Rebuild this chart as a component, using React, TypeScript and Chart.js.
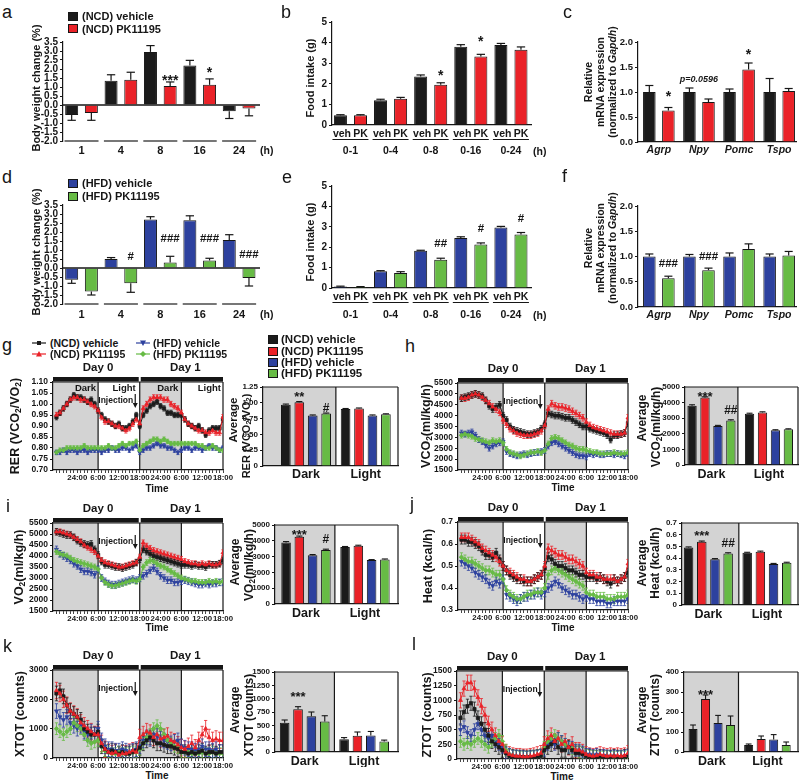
import React, { useEffect, useRef } from 'react';
import { Chart, registerables } from 'chart.js';

Chart.register(...registerables);

const FONT = '"Liberation Sans", Arial, Helvetica, sans-serif';
Chart.defaults.font.family = FONT;
const INK = '#161616';
const SHADE = '#d3d3d3';
const NCD_VEH_COLOR = '#1b1b1b';
const NCD_PK_COLOR = '#ea2228';
const HFD_VEH_COLOR = '#2d419e';
const HFD_PK_COLOR = '#67bb45';

// ---------- labels ----------
const SERIES_NAMES = ['(NCD) vehicle', '(NCD) PK11195', '(HFD) vehicle', '(HFD) PK11195'];
const BW_TIMES = ['1', '4', '8', '16', '24'];
const INTAKE_WINDOWS = ['0-1', '0-4', '0-8', '0-16', '0-24'];
const INTAKE_SUBLABELS = ['veh', 'PK'];
const GENES = ['Agrp', 'Npy', 'Pomc', 'Tspo'];
const PHASES = ['Dark', 'Light'];
const DAY_LABELS = ['Day 0', 'Day 1'];
const INJECTION_LABEL = 'Injection';
const TIME_TICK_HOURS = [6, 12, 18, 24, 30, 36, 42, 48];
const TIME_TICK_TEXT = ['24:00', '6:00', '12:00', '18:00', '24:00', '6:00', '12:00', '18:00'];
const HOURS = [0, 1, 2, 3, 4, 5, 6, 7, 8, 9, 10, 11, 12, 13, 14, 15, 16, 17, 18, 19, 20, 21, 22, 23, 24,
  25, 26, 27, 28, 29, 30, 31, 32, 33, 34, 35, 36, 37, 38, 39, 40, 41, 42, 43, 44, 45, 46, 47, 48];

// ---------- a: body weight change (NCD) ----------
const A_NCD_VEH = [-0.55, 1.35, 2.95, 2.2, -0.35];
const A_NCD_VEH_SEM = [0.3, 0.33, 0.35, 0.28, 0.4];
const A_NCD_PK = [-0.45, 1.4, 1.05, 1.12, -0.2];
const A_NCD_PK_SEM = [0.4, 0.42, 0.23, 0.33, 0.4];
// ---------- b: food intake (NCD) ----------
const B_NCD_VEH = [0.47, 1.2, 2.35, 3.8, 3.88];
const B_NCD_VEH_SEM = [0.03, 0.05, 0.08, 0.1, 0.08];
const B_NCD_PK = [0.47, 1.27, 1.95, 3.33, 3.65];
const B_NCD_PK_SEM = [0.03, 0.07, 0.1, 0.1, 0.14];
// ---------- c: mRNA (NCD) ----------
const C_NCD_VEH = [1.0, 1.0, 1.0, 1.0];
const C_NCD_VEH_SEM = [0.13, 0.08, 0.06, 0.27];
const C_NCD_PK = [0.63, 0.8, 1.45, 1.02];
const C_NCD_PK_SEM = [0.06, 0.06, 0.13, 0.05];
// ---------- d: body weight change (HFD) ----------
const D_HFD_VEH = [-0.65, 0.5, 2.7, 2.65, 1.55];
const D_HFD_VEH_SEM = [0.2, 0.08, 0.15, 0.25, 0.3];
const D_HFD_PK = [-1.3, -0.85, 0.3, 0.42, -0.55];
const D_HFD_PK_SEM = [0.2, 0.5, 0.35, 0.12, 0.45];
// ---------- e: food intake (HFD) ----------
const E_HFD_VEH = [0.07, 0.82, 1.82, 2.45, 2.97];
const E_HFD_VEH_SEM = [0.02, 0.03, 0.03, 0.06, 0.05];
const E_HFD_PK = [0.05, 0.73, 1.38, 2.13, 2.62];
const E_HFD_PK_SEM = [0.02, 0.07, 0.08, 0.08, 0.1];
// ---------- f: mRNA (HFD) ----------
const F_HFD_VEH = [1.0, 1.0, 1.0, 1.0];
const F_HFD_VEH_SEM = [0.05, 0.04, 0.07, 0.05];
const F_HFD_PK = [0.57, 0.73, 1.15, 1.02];
const F_HFD_PK_SEM = [0.04, 0.04, 0.1, 0.08];

// ---------- g: RER time course ----------
const G_NCD_VEH = [0.94, 0.96, 0.98, 1.00, 1.02, 1.04, 1.03, 1.03, 1.02, 1.01, 1.02, 1.00, 0.97,
  0.95, 0.93, 0.92, 0.91, 0.90, 0.91, 0.89, 0.89, 0.90, 0.92, 0.95, 0.90,
  0.95, 0.97, 0.99, 1.00, 1.01, 0.99, 0.98, 0.96, 0.96, 0.95, 0.95, 0.95,
  0.93, 0.91, 0.90, 0.89, 0.90, 0.88, 0.86, 0.88, 0.89, 0.89, 0.89, 0.93];
const G_NCD_PK = [0.95, 0.96, 0.98, 1.00, 1.02, 1.03, 1.03, 1.02, 1.02, 1.01, 1.00, 0.99, 0.97,
  0.94, 0.92, 0.92, 0.91, 0.90, 0.90, 0.89, 0.88, 0.89, 0.91, 0.93, 0.91,
  0.98, 1.00, 1.02, 1.03, 1.03, 1.03, 1.02, 1.02, 1.00, 0.99, 0.98, 0.96,
  0.93, 0.91, 0.90, 0.89, 0.88, 0.88, 0.87, 0.87, 0.88, 0.87, 0.87, 0.94];
const G_HFD_VEH = [0.78, 0.78, 0.79, 0.78, 0.79, 0.79, 0.78, 0.79, 0.79, 0.78, 0.79, 0.79, 0.79,
  0.78, 0.79, 0.79, 0.80, 0.79, 0.79, 0.80, 0.80, 0.79, 0.80, 0.81, 0.78,
  0.79, 0.80, 0.80, 0.81, 0.82, 0.81, 0.81, 0.80, 0.80, 0.79, 0.78, 0.79,
  0.80, 0.80, 0.79, 0.80, 0.80, 0.79, 0.80, 0.81, 0.80, 0.80, 0.79, 0.80];
const G_HFD_PK = [0.78, 0.79, 0.79, 0.80, 0.80, 0.80, 0.80, 0.80, 0.81, 0.80, 0.80, 0.80, 0.80,
  0.80, 0.80, 0.81, 0.80, 0.80, 0.81, 0.82, 0.81, 0.82, 0.82, 0.83, 0.79,
  0.81, 0.82, 0.83, 0.84, 0.84, 0.83, 0.84, 0.83, 0.82, 0.82, 0.82, 0.82,
  0.82, 0.82, 0.82, 0.82, 0.81, 0.81, 0.80, 0.80, 0.81, 0.80, 0.79, 0.79];
const G_SEM = [0.012, 0.012, 0.01, 0.01];
const G_AVG_DARK = [0.97, 1.01, 0.8, 0.83];
const G_AVG_DARK_SEM = [0.01, 0.01, 0.008, 0.008];
const G_AVG_LIGHT = [0.9, 0.91, 0.8, 0.82];
const G_AVG_LIGHT_SEM = [0.01, 0.008, 0.008, 0.006];

// ---------- h: VCO2 ----------
const H_NCD_VEH = [4800, 4850, 4900, 4950, 5000, 4950, 4900, 4700, 4450, 4300, 4400, 4500, 4000,
  3800, 3500, 3350, 3300, 3250, 3200, 3150, 3150, 3200, 3250, 3400, 3600,
  4100, 4050, 4000, 4000, 3950, 3900, 3900, 3800, 3700, 3600, 3500, 3500,
  3400, 3350, 3300, 3250, 3200, 3100, 2900, 3100, 3100, 3150, 3200, 3650];
const H_NCD_PK = [4800, 4800, 4850, 4950, 5000, 4950, 4850, 4700, 4550, 4400, 4300, 4150, 3800,
  3600, 3400, 3300, 3200, 3150, 3100, 3100, 3100, 3150, 3200, 3300, 3550,
  4300, 4550, 4450, 4400, 4400, 4350, 4300, 4200, 4100, 4000, 3900, 3700,
  3550, 3450, 3400, 3350, 3300, 3250, 3200, 3150, 3150, 3150, 3200, 3900];
const H_HFD_VEH = [3200, 3150, 3200, 3250, 3100, 2900, 2800, 2650, 2500, 2600, 2700, 2750, 2800,
  2350, 2250, 2200, 2150, 2200, 2250, 2200, 2250, 2300, 2300, 2350, 2400,
  2600, 2750, 2800, 2700, 2600, 2500, 2400, 2300, 2200, 2150, 2150, 2100,
  2250, 2200, 2250, 2200, 2200, 2250, 2250, 2200, 2250, 2200, 2150, 2250];
const H_HFD_PK = [3100, 3150, 3100, 3050, 2950, 2900, 2850, 2800, 2750, 2850, 2800, 2850, 2750,
  2450, 2300, 2250, 2200, 2150, 2200, 2250, 2300, 2300, 2350, 2300, 2400,
  2700, 2950, 3000, 2950, 2850, 2750, 2650, 2600, 2500, 2450, 2450, 2400,
  2350, 2300, 2300, 2250, 2250, 2250, 2250, 2300, 2250, 2250, 2250, 2300];
const H_SEM = [150, 150, 130, 130];
const H_AVG_DARK = [3800, 4320, 2500, 2850];
const H_AVG_DARK_SEM = [60, 50, 40, 50];
const H_AVG_LIGHT = [3280, 3370, 2230, 2290];
const H_AVG_LIGHT_SEM = [40, 40, 30, 30];

// ---------- i: VO2 ----------
const I_NCD_VEH = [5100, 5050, 5000, 4950, 4950, 4850, 4700, 4600, 4550, 4500, 4550, 4300, 4050,
  3750, 3600, 3600, 3550, 3500, 3500, 3450, 3500, 3550, 3600, 3700, 3850,
  4300, 4200, 4100, 4000, 3950, 3900, 3850, 3800, 3750, 3700, 3650, 3600,
  3600, 3600, 3550, 3600, 3550, 3550, 3500, 3600, 3600, 3600, 3650, 3800];
const I_NCD_PK = [5100, 5100, 5050, 5000, 4950, 4850, 4750, 4650, 4500, 4400, 4300, 4200, 4000,
  3800, 3700, 3650, 3600, 3550, 3500, 3500, 3550, 3600, 3650, 3700, 3950,
  4600, 4450, 4350, 4250, 4200, 4150, 4100, 4050, 4000, 3950, 3900, 3850,
  3750, 3700, 3650, 3650, 3600, 3650, 3600, 3650, 3600, 3600, 3650, 4150];
const I_HFD_VEH = [4300, 4100, 4000, 3900, 3800, 3650, 3550, 3400, 3300, 3300, 3250, 3150, 3400,
  3000, 2850, 2750, 2700, 2700, 2750, 2800, 2850, 2900, 2950, 2900, 3000,
  3100, 3200, 3350, 3450, 3300, 3100, 3000, 2900, 2900, 2800, 2800, 2850,
  2900, 2850, 2800, 2750, 2700, 2700, 2750, 2700, 2750, 2750, 2800, 2800];
const I_HFD_PK = [4200, 4100, 4050, 4000, 3900, 3800, 3750, 3700, 3650, 3600, 3550, 3500, 3400,
  3000, 2800, 2700, 2650, 2650, 2700, 2750, 2800, 2850, 2900, 2850, 2950,
  3500, 3700, 3800, 3750, 3650, 3550, 3500, 3400, 3300, 3200, 3100, 3000,
  2950, 2900, 2850, 2850, 2800, 2800, 2800, 2850, 2800, 2850, 2800, 2850];
const I_SEM = [150, 130, 150, 130];
const I_AVG_DARK = [3900, 4250, 3080, 3420];
const I_AVG_DARK_SEM = [50, 50, 50, 50];
const I_AVG_LIGHT = [3600, 3680, 2780, 2820];
const I_AVG_LIGHT_SEM = [40, 40, 30, 30];

// ---------- j: heat ----------
const J_NCD_VEH = [0.62, 0.62, 0.61, 0.61, 0.60, 0.59, 0.57, 0.55, 0.55, 0.54, 0.56, 0.53, 0.50,
  0.48, 0.46, 0.45, 0.44, 0.44, 0.43, 0.43, 0.43, 0.44, 0.45, 0.46, 0.49,
  0.54, 0.53, 0.51, 0.50, 0.50, 0.49, 0.48, 0.48, 0.47, 0.46, 0.46, 0.45,
  0.45, 0.45, 0.44, 0.45, 0.44, 0.43, 0.42, 0.44, 0.43, 0.44, 0.45, 0.47];
const J_NCD_PK = [0.63, 0.63, 0.63, 0.62, 0.61, 0.60, 0.58, 0.57, 0.56, 0.55, 0.54, 0.52, 0.50,
  0.48, 0.47, 0.46, 0.45, 0.44, 0.44, 0.43, 0.43, 0.44, 0.45, 0.46, 0.50,
  0.58, 0.57, 0.56, 0.55, 0.55, 0.54, 0.53, 0.53, 0.52, 0.51, 0.50, 0.47,
  0.46, 0.46, 0.45, 0.45, 0.44, 0.44, 0.44, 0.44, 0.43, 0.44, 0.45, 0.51];
const J_HFD_VEH = [0.52, 0.51, 0.50, 0.49, 0.47, 0.46, 0.45, 0.44, 0.42, 0.41, 0.43, 0.42, 0.44,
  0.37, 0.36, 0.35, 0.34, 0.35, 0.36, 0.36, 0.37, 0.37, 0.38, 0.37, 0.38,
  0.40, 0.41, 0.43, 0.42, 0.40, 0.39, 0.38, 0.37, 0.37, 0.36, 0.35, 0.36,
  0.35, 0.35, 0.34, 0.34, 0.34, 0.33, 0.33, 0.34, 0.34, 0.34, 0.34, 0.35];
const J_HFD_PK = [0.54, 0.53, 0.52, 0.52, 0.51, 0.50, 0.49, 0.48, 0.48, 0.47, 0.46, 0.46, 0.44,
  0.39, 0.37, 0.36, 0.35, 0.35, 0.36, 0.37, 0.37, 0.38, 0.38, 0.38, 0.40,
  0.46, 0.48, 0.49, 0.48, 0.47, 0.46, 0.45, 0.44, 0.43, 0.42, 0.41, 0.38,
  0.37, 0.37, 0.36, 0.36, 0.36, 0.35, 0.35, 0.35, 0.36, 0.36, 0.36, 0.37];
const J_SEM = [0.02, 0.02, 0.02, 0.02];
const J_AVG_DARK = [0.49, 0.54, 0.39, 0.44];
const J_AVG_DARK_SEM = [0.006, 0.006, 0.006, 0.006];
const J_AVG_LIGHT = [0.445, 0.455, 0.35, 0.36];
const J_AVG_LIGHT_SEM = [0.005, 0.005, 0.005, 0.005];

// ---------- k: XTOT ----------
const K_NCD_VEH = [2200, 2300, 2100, 1800, 1600, 1500, 1400, 1300, 1000, 900, 800, 800, 900,
  400, 300, 200, 250, 200, 150, 200, 150, 150, 200, 250, 350,
  500, 600, 700, 600, 500, 500, 450, 400, 400, 350, 300, 200,
  200, 150, 200, 150, 200, 250, 150, 200, 200, 150, 200, 200];
const K_NCD_PK = [2300, 2200, 2000, 1800, 1600, 1500, 1400, 1200, 1100, 1000, 900, 800, 800,
  500, 300, 200, 150, 200, 100, 150, 150, 200, 250, 200, 700,
  800, 900, 850, 700, 800, 650, 700, 750, 600, 550, 450, 350,
  300, 400, 500, 350, 600, 800, 1000, 700, 600, 650, 600, 600];
const K_HFD_VEH = [1600, 1400, 1300, 1400, 1200, 1100, 1000, 1100, 900, 800, 900, 800, 1000,
  600, 400, 300, 300, 250, 250, 300, 250, 200, 250, 300, 400,
  600, 700, 650, 800, 750, 650, 600, 550, 500, 550, 600, 400,
  350, 300, 300, 250, 300, 400, 300, 300, 250, 300, 200, 200];
const K_HFD_PK = [1000, 900, 800, 900, 1000, 1200, 1100, 1000, 800, 600, 500, 550, 600,
  400, 250, 200, 150, 150, 200, 150, 150, 150, 200, 200, 300,
  500, 700, 800, 1000, 1100, 1000, 800, 600, 500, 400, 350, 200,
  200, 200, 150, 150, 150, 200, 150, 150, 200, 150, 150, 150];
const K_SEM = [250, 280, 250, 200];
const K_AVG_DARK = [550, 800, 670, 570];
const K_AVG_DARK_SEM = [50, 50, 80, 110];
const K_AVG_LIGHT = [240, 305, 310, 195];
const K_AVG_LIGHT_SEM = [30, 70, 75, 28];

// ---------- l: ZTOT ----------
const L_NCD_VEH = [700, 800, 900, 950, 850, 700, 600, 500, 400, 300, 250, 200, 150,
  100, 50, 40, 30, 30, 30, 20, 30, 30, 40, 50, 150,
  200, 250, 300, 200, 150, 150, 200, 150, 100, 100, 80, 50,
  40, 30, 30, 40, 30, 30, 30, 40, 30, 30, 40, 50];
const L_NCD_PK = [1000, 1200, 1300, 1300, 1200, 1050, 900, 750, 600, 500, 400, 300, 250,
  120, 80, 60, 50, 50, 40, 40, 50, 60, 80, 100, 250,
  350, 400, 300, 350, 250, 300, 200, 250, 150, 150, 120, 80,
  60, 50, 60, 80, 60, 50, 60, 50, 60, 50, 60, 100];
const L_HFD_VEH = [500, 550, 450, 400, 500, 600, 500, 400, 350, 400, 300, 250, 200,
  100, 80, 50, 50, 40, 40, 30, 40, 40, 50, 60, 150,
  250, 300, 250, 350, 300, 250, 200, 200, 150, 150, 120, 80,
  80, 60, 80, 50, 60, 50, 40, 50, 40, 40, 50, 60];
const L_HFD_PK = [300, 250, 280, 250, 300, 350, 300, 250, 200, 300, 350, 400, 300,
  150, 80, 50, 40, 30, 30, 30, 30, 40, 50, 60, 200,
  300, 350, 400, 350, 300, 250, 200, 180, 150, 120, 100, 60,
  50, 40, 40, 30, 30, 40, 30, 30, 30, 40, 30, 40];
const L_SEM = [120, 130, 100, 100];
const L_AVG_DARK = [115, 265, 145, 135];
const L_AVG_DARK_SEM = [20, 20, 38, 45];
const L_AVG_LIGHT = [35, 65, 62, 35];
const L_AVG_LIGHT_SEM = [5, 15, 25, 15];

// =====================================================================
const GROUP_COLORS = [NCD_VEH_COLOR, NCD_PK_COLOR, HFD_VEH_COLOR, HFD_PK_COLOR];

function strokeLine(ctx: any, x1: number, y1: number, x2: number, y2: number, w: number, c: string) {
  ctx.strokeStyle = c;
  ctx.lineWidth = w;
  ctx.beginPath();
  ctx.moveTo(x1, y1);
  ctx.lineTo(x2, y2);
  ctx.stroke();
}

function drawNote(ctx: any, x: number, yPix: number, text: string, size: number, italic?: boolean) {
  ctx.font = `${italic ? 'italic ' : ''}bold ${size}px ${FONT}`;
  ctx.fillStyle = INK;
  ctx.textAlign = 'center';
  ctx.textBaseline = 'alphabetic';
  const k = text[0] === '*' ? 0.58 : text[0] === '#' ? 0.36 : 0.3;
  ctx.fillText(text, x, yPix + k * size);
}

function noteSize(t: string) {
  return t[0] === '*' ? 14 : 11.5;
}

function yAxis(min: number, max: number, step: number, dec: number, width: number, size: number, zeroPlain: boolean) {
  return {
    type: 'linear',
    min,
    max,
    ticks: {
      stepSize: step,
      autoSkip: false,
      padding: 2,
      color: INK,
      font: { family: FONT, size, weight: 'bold' },
      callback: (v: any) => (zeroPlain && Math.abs(v) < 1e-9 ? '0' : Number(v).toFixed(dec)),
    },
    grid: { display: true, drawOnChartArea: false, drawTicks: true, tickLength: 3, color: INK, lineWidth: 1 },
    border: { display: true, color: INK, width: 1.2 },
    afterFit: (s: any) => {
      s.width = width;
    },
  };
}

function baseOptions(box: number[], area: number[]) {
  return {
    responsive: false,
    animation: false,
    events: [],
    layout: { padding: { left: 0, top: area[1] - box[1], right: box[0] + box[2] - area[2], bottom: 0 } },
    plugins: { legend: { display: false }, tooltip: { enabled: false }, title: { display: false } },
  };
}

// ---------- grouped bar (a-f) ----------
function groupBarChart(p: any) {
  const [bl, bt, bw, bh] = p.box;
  const [L, , , B] = p.area;
  return {
    type: 'bar',
    data: {
      datasets: p.series.map((s: any) => ({
        data: s.vals.map((v: number, i: number) => ({ x: i, y: v })),
        backgroundColor: s.color,
        borderColor: INK,
        borderWidth: 1,
        borderSkipped: 'start',
        categoryPercentage: p.catPct,
        barPercentage: p.barPct,
      })),
    },
    options: {
      ...baseOptions(p.box, p.area),
      scales: {
        x: {
          type: 'linear',
          min: p.xMin,
          max: p.xMax,
          offset: false,
          afterBuildTicks: (s: any) => {
            s.ticks = p.labels.map((_: any, i: number) => ({ value: i }));
          },
          ticks: {
            autoSkip: false,
            maxRotation: 0,
            minRotation: 0,
            padding: p.xPad,
            color: INK,
            font: { family: FONT, size: p.xFont, weight: 'bold', style: p.xItalic ? 'italic' : 'normal' },
            callback: (v: any) => p.labels[v] ?? '',
          },
          grid: { display: false, drawTicks: false },
          border: { display: p.xBorder, color: INK, width: 1.2 },
          afterFit: (s: any) => {
            s.height = bt + bh - B;
          },
        },
        y: yAxis(p.yMin, p.yMax, p.yStep, p.yDec, L - bl, p.yFont || 10, false),
      },
    },
    plugins: [
      {
        id: 'groupBarExtras',
        afterDatasetsDraw(chart: any) {
          const ctx = chart.ctx;
          const a = chart.chartArea;
          const xs = chart.scales.x;
          const ys = chart.scales.y;
          ctx.save();
          p.series.forEach((s: any, i: number) => {
            chart.getDatasetMeta(i).data.forEach((el: any, j: number) => {
              const v = s.vals[j];
              const dir = v < 0 ? -1 : 1;
              const y1 = ys.getPixelForValue(v);
              const y2 = ys.getPixelForValue(v + dir * s.errs[j]);
              const cw = el.width * 0.32;
              strokeLine(ctx, el.x, y1, el.x, y2, 1.2, INK);
              strokeLine(ctx, el.x - cw, y2, el.x + cw, y2, 1.2, INK);
            });
          });
          if (p.zeroLine) {
            const y0 = ys.getPixelForValue(0);
            strokeLine(ctx, a.left, y0, a.right, y0, 1.5, INK);
          }
          if (p.segments) {
            p.labels.forEach((_: any, g: number) => {
              const cx = xs.getPixelForValue(g);
              strokeLine(ctx, cx - 17, a.bottom, cx + 17, a.bottom, 1.5, '#4a4a4a');
            });
          }
          if (p.subLabels) {
            ctx.font = `bold 10.5px ${FONT}`;
            ctx.fillStyle = INK;
            ctx.textAlign = 'center';
            ctx.textBaseline = 'middle';
            p.labels.forEach((_: any, g: number) => {
              p.subLabels.forEach((t: string, k: number) => {
                const el = chart.getDatasetMeta(k).data[g];
                ctx.fillText(t, el.x + (k === 0 ? 1.5 : 0), a.bottom + 9);
              });
              const cx = xs.getPixelForValue(g);
              strokeLine(ctx, cx - 18, a.bottom + 14.5, cx + 18, a.bottom + 14.5, 1, INK);
            });
          }
          p.notes.forEach((n: any) => {
            const x = n.s < 0 ? xs.getPixelForValue(n.g) : chart.getDatasetMeta(n.s).data[n.g].x;
            drawNote(ctx, x, ys.getPixelForValue(n.y), n.t, n.size || noteSize(n.t), n.italic);
          });
          ctx.restore();
        },
      },
    ],
  };
}

// ---------- time course (g-l left) ----------
function timeChart(p: any) {
  const [bl, bt, bw, bh] = p.box;
  const [L, , , B] = p.area;
  const defs = [
    { vals: p.v[1], err: p.sem[1], color: NCD_PK_COLOR, shape: 'triangle', rot: 0 },
    { vals: p.v[0], err: p.sem[0], color: NCD_VEH_COLOR, shape: 'rect', rot: 0 },
    { vals: p.v[3], err: p.sem[3], color: HFD_PK_COLOR, shape: 'rectRot', rot: 0 },
    { vals: p.v[2], err: p.sem[2], color: HFD_VEH_COLOR, shape: 'triangle', rot: 180 },
  ];
  return {
    type: 'line',
    data: {
      datasets: defs.map((s) => ({
        data: HOURS.map((h, i) => ({ x: h, y: s.vals[i] })),
        borderColor: s.color,
        backgroundColor: s.color,
        borderWidth: 1,
        pointStyle: s.shape,
        pointRotation: s.rot,
        pointRadius: 2.3,
        pointBorderWidth: 0.8,
        tension: 0,
      })),
    },
    options: {
      ...baseOptions(p.box, p.area),
      scales: {
        x: {
          type: 'linear',
          min: -1,
          max: 48,
          offset: false,
          afterBuildTicks: (s: any) => {
            s.ticks = HOURS.map((v) => ({ value: v }));
          },
          ticks: {
            autoSkip: false,
            maxRotation: 0,
            minRotation: 0,
            padding: 0,
            color: INK,
            font: { family: FONT, size: 7.8, weight: 'bold' },
            callback: (v: any) => {
              const k = TIME_TICK_HOURS.indexOf(v);
              return k >= 0 ? TIME_TICK_TEXT[k] : '';
            },
          },
          grid: { display: true, drawOnChartArea: false, drawTicks: true, tickLength: 3, color: INK, lineWidth: 0.8 },
          border: { display: true, color: INK, width: 1.2 },
          afterFit: (s: any) => {
            s.height = bt + bh - B;
          },
        },
        y: yAxis(p.yMin, p.yMax, p.yStep, p.yDec, L - bl, 8.5, false),
      },
    },
    plugins: [
      {
        id: 'timeExtras',
        beforeDraw(chart: any) {
          const ctx = chart.ctx;
          const a = chart.chartArea;
          const xs = chart.scales.x;
          const x12 = xs.getPixelForValue(12);
          const x24 = xs.getPixelForValue(24);
          const x36 = xs.getPixelForValue(36);
          ctx.save();
          ctx.fillStyle = SHADE;
          ctx.fillRect(a.left, a.top, x12 - a.left, a.bottom - a.top);
          ctx.fillRect(x24, a.top, x36 - x24, a.bottom - a.top);
          ctx.restore();
        },
        beforeDatasetsDraw(chart: any) {
          const ctx = chart.ctx;
          const a = chart.chartArea;
          const xs = chart.scales.x;
          const ys = chart.scales.y;
          const x12 = xs.getPixelForValue(12);
          const x24 = xs.getPixelForValue(24);
          const x36 = xs.getPixelForValue(36);
          ctx.save();
          [x12, x24, x36].forEach((x) => strokeLine(ctx, x, a.top, x, a.bottom, 1.2, INK));
          strokeLine(ctx, a.left, a.top, a.right, a.top, 1.2, INK);
          strokeLine(ctx, a.right, a.top, a.right, a.bottom, 1.2, INK);
          ctx.fillStyle = INK;
          ctx.fillRect(a.left, a.top - 5, x24 - 1 - a.left, 4.5);
          ctx.fillRect(x24 + 1, a.top - 5, a.right - x24 - 1, 4.5);
          ctx.font = `bold 11.5px ${FONT}`;
          ctx.textAlign = 'center';
          ctx.textBaseline = 'middle';
          ctx.fillText(DAY_LABELS[0], x12, a.top - 14);
          ctx.fillText(DAY_LABELS[1], x36 + 4, a.top - 14);
          if (p.phaseLabels) {
            ctx.font = `bold 9.5px ${FONT}`;
            ctx.textAlign = 'right';
            ctx.fillText(PHASES[0], x12 - 2, a.top + 6);
            ctx.fillText(PHASES[1], x24 - 4, a.top + 6);
            ctx.fillText(PHASES[0], x36 - 3, a.top + 6);
            ctx.fillText(PHASES[1], a.right - 2, a.top + 6);
          }
          const xa = x24 - 4.5;
          ctx.font = `bold 8.5px ${FONT}`;
          ctx.textAlign = 'right';
          ctx.fillText(INJECTION_LABEL, xa - 2, a.top + 19);
          strokeLine(ctx, xa, a.top + 12, xa, a.top + 22, 1.2, INK);
          ctx.beginPath();
          ctx.moveTo(xa - 2.5, a.top + 21);
          ctx.lineTo(xa + 2.5, a.top + 21);
          ctx.lineTo(xa, a.top + 26);
          ctx.closePath();
          ctx.fill();
          ctx.beginPath();
          ctx.rect(a.left, a.top, a.right - a.left, a.bottom - a.top);
          ctx.clip();
          defs.forEach((s) => {
            ctx.strokeStyle = s.color;
            ctx.lineWidth = 0.8;
            ctx.beginPath();
            HOURS.forEach((h, i) => {
              const x = xs.getPixelForValue(h);
              const v = s.vals[i];
              const y1 = ys.getPixelForValue(v - s.err);
              const y2 = ys.getPixelForValue(v + s.err);
              ctx.moveTo(x, y1);
              ctx.lineTo(x, y2);
              ctx.moveTo(x - 1.6, y1);
              ctx.lineTo(x + 1.6, y1);
              ctx.moveTo(x - 1.6, y2);
              ctx.lineTo(x + 1.6, y2);
            });
            ctx.stroke();
          });
          ctx.restore();
        },
      },
    ],
  };
}

// ---------- average bars (g-l right) ----------
function avgChart(p: any) {
  const [bl, bt, bw, bh] = p.box;
  const [L, , , B] = p.area;
  return {
    type: 'bar',
    data: {
      datasets: GROUP_COLORS.map((c, i) => ({
        data: [
          { x: 0, y: p.dark[i] },
          { x: 1, y: p.light[i] },
        ],
        backgroundColor: c,
        borderColor: INK,
        borderWidth: 1,
        borderSkipped: 'start',
        categoryPercentage: 0.9,
        barPercentage: 0.72,
      })),
    },
    options: {
      ...baseOptions(p.box, p.area),
      scales: {
        x: {
          type: 'linear',
          min: p.xMin,
          max: p.xMax,
          offset: false,
          afterBuildTicks: (s: any) => {
            s.ticks = [{ value: 0 }, { value: 1 }];
          },
          ticks: {
            autoSkip: false,
            maxRotation: 0,
            minRotation: 0,
            padding: p.xPad,
            color: INK,
            font: { family: FONT, size: 12.5, weight: 'bold' },
            callback: (v: any) => PHASES[v] ?? '',
          },
          grid: { display: false, drawTicks: false },
          border: { display: true, color: INK, width: 1.2 },
          afterFit: (s: any) => {
            s.height = bt + bh - B;
          },
        },
        y: yAxis(p.yMin, p.yMax, p.yStep, p.yDec, L - bl, 8, true),
      },
    },
    plugins: [
      {
        id: 'avgExtras',
        beforeDraw(chart: any) {
          const ctx = chart.ctx;
          const a = chart.chartArea;
          const xd = chart.scales.x.getPixelForValue(p.divider);
          ctx.save();
          ctx.fillStyle = SHADE;
          ctx.fillRect(a.left, a.top, xd - a.left, a.bottom - a.top);
          ctx.restore();
        },
        beforeDatasetsDraw(chart: any) {
          const ctx = chart.ctx;
          const a = chart.chartArea;
          const xd = chart.scales.x.getPixelForValue(p.divider);
          ctx.save();
          strokeLine(ctx, xd, a.top, xd, a.bottom, 1.2, INK);
          strokeLine(ctx, a.left, a.top, a.right, a.top, 1.2, INK);
          strokeLine(ctx, a.right, a.top, a.right, a.bottom, 1.2, INK);
          ctx.restore();
        },
        afterDatasetsDraw(chart: any) {
          const ctx = chart.ctx;
          const ys = chart.scales.y;
          ctx.save();
          GROUP_COLORS.forEach((_, i) => {
            chart.getDatasetMeta(i).data.forEach((el: any, j: number) => {
              const v = j === 0 ? p.dark[i] : p.light[i];
              const e = j === 0 ? p.darkSem[i] : p.lightSem[i];
              const y1 = ys.getPixelForValue(v);
              const y2 = ys.getPixelForValue(v + e);
              const cw = el.width * 0.32;
              strokeLine(ctx, el.x, y1, el.x, y2, 1.1, INK);
              strokeLine(ctx, el.x - cw, y2, el.x + cw, y2, 1.1, INK);
            });
          });
          p.notes.forEach((n: any) => {
            const el = chart.getDatasetMeta(n.s).data[0];
            drawNote(ctx, el.x, ys.getPixelForValue(n.y), n.t, n.t[0] === '*' ? 13 : 12);
          });
          ctx.restore();
        },
      },
    ],
  };
}

// ---------- panel specs ----------
const PANEL_A = {
  box: [20, 28, 250, 132], area: [63, 42, 260, 141],
  yMin: -2, yMax: 3.5, yStep: 0.5, yDec: 1, labels: BW_TIMES,
  series: [
    { vals: A_NCD_VEH, errs: A_NCD_VEH_SEM, color: NCD_VEH_COLOR },
    { vals: A_NCD_PK, errs: A_NCD_PK_SEM, color: NCD_PK_COLOR },
  ],
  xMin: -0.47, xMax: 4.53, catPct: 1, barPct: 0.66, xPad: 3, xFont: 11, xBorder: false,
  zeroLine: true, segments: true,
  notes: [{ g: 2, s: 1, y: 1.57, t: '***' }, { g: 3, s: 1, y: 1.99, t: '*' }],
};
const PANEL_B = {
  box: [285, 8, 262, 152], area: [332, 22, 531, 125],
  yMin: 0, yMax: 5, yStep: 1, yDec: 0, labels: INTAKE_WINDOWS,
  series: [
    { vals: B_NCD_VEH, errs: B_NCD_VEH_SEM, color: NCD_VEH_COLOR },
    { vals: B_NCD_PK, errs: B_NCD_PK_SEM, color: NCD_PK_COLOR },
  ],
  xMin: -0.46, xMax: 4.5, catPct: 1, barPct: 0.65, xPad: 20, xFont: 10.5, xBorder: true,
  subLabels: INTAKE_SUBLABELS,
  notes: [{ g: 2, s: 1, y: 2.57, t: '*' }, { g: 3, s: 1, y: 4.22, t: '*' }],
};
const PANEL_C = {
  box: [575, 20, 225, 140], area: [638, 42, 796, 142],
  yMin: 0, yMax: 2, yStep: 0.5, yDec: 1, yFont: 9.5, labels: GENES,
  series: [
    { vals: C_NCD_VEH, errs: C_NCD_VEH_SEM, color: NCD_VEH_COLOR },
    { vals: C_NCD_PK, errs: C_NCD_PK_SEM, color: NCD_PK_COLOR },
  ],
  xMin: -0.52, xMax: 3.42, catPct: 0.95, barPct: 0.66, xPad: 2, xFont: 10.5, xItalic: true, xBorder: true,
  notes: [
    { g: 0, s: 1, y: 0.99, t: '*' },
    { g: 1, s: -1, y: 1.25, t: 'p=0.0596', italic: true, size: 9 },
    { g: 2, s: 1, y: 1.83, t: '*' },
  ],
};
const PANEL_D = {
  box: [20, 190, 250, 135], area: [63, 205, 260, 304],
  yMin: -2, yMax: 3.5, yStep: 0.5, yDec: 1, labels: BW_TIMES,
  series: [
    { vals: D_HFD_VEH, errs: D_HFD_VEH_SEM, color: HFD_VEH_COLOR },
    { vals: D_HFD_PK, errs: D_HFD_PK_SEM, color: HFD_PK_COLOR },
  ],
  xMin: -0.47, xMax: 4.53, catPct: 1, barPct: 0.66, xPad: 4, xFont: 11, xBorder: false,
  zeroLine: true, segments: true,
  notes: [
    { g: 1, s: 1, y: 0.67, t: '#' },
    { g: 2, s: 1, y: 1.67, t: '###' },
    { g: 3, s: 1, y: 1.67, t: '###' },
    { g: 4, s: 1, y: 0.78, t: '###' },
  ],
};
const PANEL_E = {
  box: [285, 172, 262, 153], area: [332, 186, 531, 288],
  yMin: 0, yMax: 5, yStep: 1, yDec: 0, labels: INTAKE_WINDOWS,
  series: [
    { vals: E_HFD_VEH, errs: E_HFD_VEH_SEM, color: HFD_VEH_COLOR },
    { vals: E_HFD_PK, errs: E_HFD_PK_SEM, color: HFD_PK_COLOR },
  ],
  xMin: -0.46, xMax: 4.5, catPct: 1, barPct: 0.65, xPad: 21, xFont: 10.5, xBorder: true,
  subLabels: INTAKE_SUBLABELS,
  notes: [{ g: 2, s: 1, y: 2.2, t: '##' }, { g: 3, s: 1, y: 2.94, t: '#' }, { g: 4, s: 1, y: 3.43, t: '#' }],
};
const PANEL_F = {
  box: [575, 185, 225, 140], area: [638, 206, 796, 307],
  yMin: 0, yMax: 2, yStep: 0.5, yDec: 1, yFont: 9.5, labels: GENES,
  series: [
    { vals: F_HFD_VEH, errs: F_HFD_VEH_SEM, color: HFD_VEH_COLOR },
    { vals: F_HFD_PK, errs: F_HFD_PK_SEM, color: HFD_PK_COLOR },
  ],
  xMin: -0.52, xMax: 3.42, catPct: 0.95, barPct: 0.66, xPad: 2, xFont: 10.5, xItalic: true, xBorder: true,
  notes: [{ g: 0, s: 1, y: 0.87, t: '###' }, { g: 1, s: 1, y: 1.01, t: '###' }],
};

const TIME_G = { box: [0, 357, 240, 130], area: [53, 382, 223, 470], yMin: 0.7, yMax: 1.1, yStep: 0.05, yDec: 2, v: [G_NCD_VEH, G_NCD_PK, G_HFD_VEH, G_HFD_PK], sem: G_SEM, phaseLabels: true };
const TIME_H = { box: [405, 357, 240, 130], area: [458, 383, 628, 470], yMin: 1500, yMax: 5500, yStep: 500, yDec: 0, v: [H_NCD_VEH, H_NCD_PK, H_HFD_VEH, H_HFD_PK], sem: H_SEM };
const TIME_I = { box: [0, 497, 240, 128], area: [53, 523, 223, 611], yMin: 1500, yMax: 5500, yStep: 500, yDec: 0, v: [I_NCD_VEH, I_NCD_PK, I_HFD_VEH, I_HFD_PK], sem: I_SEM };
const TIME_J = { box: [405, 497, 240, 128], area: [458, 522, 628, 610], yMin: 0.3, yMax: 0.7, yStep: 0.1, yDec: 1, v: [J_NCD_VEH, J_NCD_PK, J_HFD_VEH, J_HFD_PK], sem: J_SEM };
const TIME_K = { box: [0, 645, 240, 125], area: [53, 670, 223, 758], yMin: 0, yMax: 3000, yStep: 1000, yDec: 0, v: [K_NCD_VEH, K_NCD_PK, K_HFD_VEH, K_HFD_PK], sem: K_SEM };
const TIME_L = { box: [405, 645, 240, 126], area: [457, 671, 628, 759], yMin: 0, yMax: 1500, yStep: 250, yDec: 0, v: [L_NCD_VEH, L_NCD_PK, L_HFD_VEH, L_HFD_PK], sem: L_SEM };

const AVG_G = { box: [240, 378, 160, 104], area: [263, 387, 398, 466], yMin: 0, yMax: 1.25, yStep: 0.25, yDec: 2, xMin: -0.72, xMax: 1.54, divider: 0.5, xPad: 1, dark: G_AVG_DARK, darkSem: G_AVG_DARK_SEM, light: G_AVG_LIGHT, lightSem: G_AVG_LIGHT_SEM, notes: [{ s: 1, y: 1.155, t: '**' }, { s: 3, y: 0.93, t: '#' }] };
const AVG_H = { box: [645, 378, 155, 104], area: [685, 387, 798, 465], yMin: 0, yMax: 5000, yStep: 1000, yDec: 0, xMin: -0.46, xMax: 1.505, divider: 0.46, xPad: 2, dark: H_AVG_DARK, darkSem: H_AVG_DARK_SEM, light: H_AVG_LIGHT, lightSem: H_AVG_LIGHT_SEM, notes: [{ s: 1, y: 4615, t: '***' }, { s: 3, y: 3525, t: '##' }] };
const AVG_I = { box: [245, 516, 155, 104], area: [275, 525, 398, 604], yMin: 0, yMax: 5000, yStep: 1000, yDec: 0, xMin: -0.525, xMax: 1.56, divider: 0.49, xPad: 2, dark: I_AVG_DARK, darkSem: I_AVG_DARK_SEM, light: I_AVG_LIGHT, lightSem: I_AVG_LIGHT_SEM, notes: [{ s: 1, y: 4620, t: '***' }, { s: 3, y: 4114, t: '#' }] };
const AVG_J = { box: [645, 514, 155, 106], area: [682, 523, 798, 605], yMin: 0, yMax: 0.7, yStep: 0.1, yDec: 1, xMin: -0.45, xMax: 1.53, divider: 0.52, xPad: 2, dark: J_AVG_DARK, darkSem: J_AVG_DARK_SEM, light: J_AVG_LIGHT, lightSem: J_AVG_LIGHT_SEM, notes: [{ s: 1, y: 0.615, t: '***' }, { s: 3, y: 0.53, t: '##' }] };
const AVG_K = { box: [245, 663, 155, 104], area: [275, 672, 398, 752], yMin: 0, yMax: 1500, yStep: 250, yDec: 0, xMin: -0.5, xMax: 1.57, divider: 0.5, xPad: 2, dark: K_AVG_DARK, darkSem: K_AVG_DARK_SEM, light: K_AVG_LIGHT, lightSem: K_AVG_LIGHT_SEM, notes: [{ s: 1, y: 1106, t: '***' }] };
const AVG_L = { box: [645, 663, 155, 104], area: [684, 672, 798, 752], yMin: 0, yMax: 400, yStep: 100, yDec: 0, xMin: -0.5, xMax: 1.55, divider: 0.48, xPad: 2, dark: L_AVG_DARK, darkSem: L_AVG_DARK_SEM, light: L_AVG_LIGHT, lightSem: L_AVG_LIGHT_SEM, notes: [{ s: 1, y: 305, t: '***' }] };

// ---------- React pieces ----------
function ChartBox({ box, make }: { box: number[]; make: () => any }) {
  const ref = useRef<HTMLCanvasElement | null>(null);
  useEffect(() => {
    const chart = new Chart(ref.current as any, make());
    return () => chart.destroy();
  }, []);
  return (
    <canvas
      ref={ref}
      width={box[2]}
      height={box[3]}
      style={{ position: 'absolute', left: box[0], top: box[1], width: box[2], height: box[3] }}
    />
  );
}

function Txt({ x, y, size = 10, bold = true, italic = false, align = 'left', rotate = false, children }: any) {
  const tx = rotate || align === 'center' ? '-50%' : align === 'right' ? '-100%' : '0';
  return (
    <div
      style={{
        position: 'absolute',
        left: x,
        top: y,
        transform: `translate(${tx}, -50%)${rotate ? ' rotate(-90deg)' : ''}`,
        fontFamily: FONT,
        fontSize: size,
        fontWeight: bold ? 'bold' : 'normal',
        fontStyle: italic ? 'italic' : 'normal',
        lineHeight: 1,
        whiteSpace: 'nowrap',
        color: INK,
      }}
    >
      {children}
    </div>
  );
}

function Sub({ children }: any) {
  return <span style={{ fontSize: '0.68em', verticalAlign: '-0.25em', lineHeight: 0 }}>{children}</span>;
}

function Letter({ x, base, children }: any) {
  return (
    <div style={{ position: 'absolute', left: x, top: base - 15, fontFamily: FONT, fontSize: 18, lineHeight: 1, color: INK }}>
      {children}
    </div>
  );
}

function Swatch({ x, y, color, w = 10, h = 9 }: any) {
  return (
    <div
      style={{
        position: 'absolute',
        left: x,
        top: y - h / 2,
        width: w,
        height: h,
        background: color,
        border: `1px solid ${INK}`,
        boxSizing: 'border-box',
      }}
    />
  );
}

function LineKey({ x, y, color, shape }: any) {
  return (
    <svg style={{ position: 'absolute', left: x, top: y - 4 }} width={14} height={8}>
      <line x1={0} y1={4} x2={14} y2={4} stroke={color} strokeWidth={1.2} />
      {shape === 'rect' && <rect x={5} y={2} width={4} height={4} fill={color} />}
      {shape === 'up' && <polygon points="7,1 10,6.5 4,6.5" fill={color} />}
      {shape === 'down' && <polygon points="7,7 10,1.5 4,1.5" fill={color} />}
      {shape === 'diamond' && <polygon points="7,1 10,4 7,7 4,4" fill={color} />}
    </svg>
  );
}

const RER = (
  <>
    RER (VCO<Sub>2</Sub>/VO<Sub>2</Sub>)
  </>
);
const VCO2 = (
  <>
    VCO<Sub>2</Sub>(ml/kg/h)
  </>
);
const VO2 = (
  <>
    VO<Sub>2</Sub>(ml/kg/h)
  </>
);
const BW_TITLE = 'Body weight change (%)';
const FI_TITLE = 'Food intake (g)';
const TIME_TITLE = 'Time';
const HOUR_UNIT = '(h)';
const AVG_WORD = 'Average';

function MrnaTitle({ y }: any) {
  return (
    <>
      <Txt x={588} y={y} rotate size={10.5}>Relative</Txt>
      <Txt x={600} y={y} rotate size={10.5}>mRNA expression</Txt>
      <Txt x={612} y={y} rotate size={10.5}>
        (normalized to <i>Gapdh</i>)
      </Txt>
    </>
  );
}

export default function App() {
  return (
    <div style={{ position: 'absolute', left: 0, top: 0, width: 800, height: 783, background: '#fff', overflow: 'hidden' }}>
      <ChartBox box={PANEL_A.box} make={() => groupBarChart(PANEL_A)} />
      <ChartBox box={PANEL_B.box} make={() => groupBarChart(PANEL_B)} />
      <ChartBox box={PANEL_C.box} make={() => groupBarChart(PANEL_C)} />
      <ChartBox box={PANEL_D.box} make={() => groupBarChart(PANEL_D)} />
      <ChartBox box={PANEL_E.box} make={() => groupBarChart(PANEL_E)} />
      <ChartBox box={PANEL_F.box} make={() => groupBarChart(PANEL_F)} />
      <ChartBox box={TIME_G.box} make={() => timeChart(TIME_G)} />
      <ChartBox box={TIME_H.box} make={() => timeChart(TIME_H)} />
      <ChartBox box={TIME_I.box} make={() => timeChart(TIME_I)} />
      <ChartBox box={TIME_J.box} make={() => timeChart(TIME_J)} />
      <ChartBox box={TIME_K.box} make={() => timeChart(TIME_K)} />
      <ChartBox box={TIME_L.box} make={() => timeChart(TIME_L)} />
      <ChartBox box={AVG_G.box} make={() => avgChart(AVG_G)} />
      <ChartBox box={AVG_H.box} make={() => avgChart(AVG_H)} />
      <ChartBox box={AVG_I.box} make={() => avgChart(AVG_I)} />
      <ChartBox box={AVG_J.box} make={() => avgChart(AVG_J)} />
      <ChartBox box={AVG_K.box} make={() => avgChart(AVG_K)} />
      <ChartBox box={AVG_L.box} make={() => avgChart(AVG_L)} />

      {/* panel letters */}
      <Letter x={2} base={18}>a</Letter>
      <Letter x={281} base={18}>b</Letter>
      <Letter x={563} base={18}>c</Letter>
      <Letter x={2} base={183}>d</Letter>
      <Letter x={282} base={183}>e</Letter>
      <Letter x={562} base={182}>f</Letter>
      <Letter x={2} base={351}>g</Letter>
      <Letter x={405} base={352}>h</Letter>
      <Letter x={6} base={512}>i</Letter>
      <Letter x={410} base={510}>j</Letter>
      <Letter x={3} base={652}>k</Letter>
      <Letter x={412} base={650}>l</Letter>

      {/* legends a, d */}
      <Swatch x={68} y={16} color={NCD_VEH_COLOR} />
      <Txt x={82} y={16} size={11}>{SERIES_NAMES[0]}</Txt>
      <Swatch x={68} y={28.5} color={NCD_PK_COLOR} />
      <Txt x={82} y={28.5} size={11}>{SERIES_NAMES[1]}</Txt>
      <Swatch x={68} y={183} color={HFD_VEH_COLOR} />
      <Txt x={82} y={183} size={11}>{SERIES_NAMES[2]}</Txt>
      <Swatch x={68} y={196} color={HFD_PK_COLOR} />
      <Txt x={82} y={196} size={11}>{SERIES_NAMES[3]}</Txt>

      {/* axis titles a-f */}
      <Txt x={36} y={88} rotate size={11}>{BW_TITLE}</Txt>
      <Txt x={36} y={252} rotate size={11}>{BW_TITLE}</Txt>
      <Txt x={310} y={78} rotate size={11}>{FI_TITLE}</Txt>
      <Txt x={310} y={242} rotate size={11}>{FI_TITLE}</Txt>
      <MrnaTitle y={82} />
      <MrnaTitle y={248} />
      <Txt x={260} y={150} size={10.5}>{HOUR_UNIT}</Txt>
      <Txt x={533} y={151} size={10.5}>{HOUR_UNIT}</Txt>
      <Txt x={260} y={314} size={10.5}>{HOUR_UNIT}</Txt>
      <Txt x={533} y={315} size={10.5}>{HOUR_UNIT}</Txt>

      {/* g line legend */}
      <LineKey x={32} y={343} color={NCD_VEH_COLOR} shape="rect" />
      <Txt x={50} y={343} size={10.5}>{SERIES_NAMES[0]}</Txt>
      <LineKey x={32} y={354} color={NCD_PK_COLOR} shape="up" />
      <Txt x={50} y={354} size={10.5}>{SERIES_NAMES[1]}</Txt>
      <LineKey x={136} y={343} color={HFD_VEH_COLOR} shape="down" />
      <Txt x={153} y={343} size={10.5}>{SERIES_NAMES[2]}</Txt>
      <LineKey x={136} y={354} color={HFD_PK_COLOR} shape="diamond" />
      <Txt x={153} y={354} size={10.5}>{SERIES_NAMES[3]}</Txt>

      {/* g bar legend */}
      {[339.5, 351.5, 362.5, 373.5].map((y, i) => (
        <React.Fragment key={i}>
          <Swatch x={268} y={y} color={GROUP_COLORS[i]} />
          <Txt x={281} y={y} size={11.5}>{SERIES_NAMES[i]}</Txt>
        </React.Fragment>
      ))}

      {/* time-course y titles */}
      <Txt x={15} y={426} rotate size={12.5}>{RER}</Txt>
      <Txt x={426} y={426} rotate size={12.5}>{VCO2}</Txt>
      <Txt x={19} y={567} rotate size={12.5}>{VO2}</Txt>
      <Txt x={428} y={566} rotate size={12.5}>Heat (kcal/h)</Txt>
      <Txt x={20} y={714} rotate size={12.5}>XTOT (counts)</Txt>
      <Txt x={427} y={715} rotate size={12.5}>ZTOT (counts)</Txt>

      {/* time axis titles */}
      <Txt x={157} y={489} align="center" size={10}>{TIME_TITLE}</Txt>
      <Txt x={563} y={488} align="center" size={10}>{TIME_TITLE}</Txt>
      <Txt x={157} y={628} align="center" size={10}>{TIME_TITLE}</Txt>
      <Txt x={563} y={628} align="center" size={10}>{TIME_TITLE}</Txt>
      <Txt x={157} y={776} align="center" size={10}>{TIME_TITLE}</Txt>
      <Txt x={562} y={777} align="center" size={10}>{TIME_TITLE}</Txt>

      {/* average-bar y titles */}
      <Txt x={234} y={420} rotate size={11.5}>{AVG_WORD}</Txt>
      <Txt x={246} y={436} rotate size={11}>{RER}</Txt>
      <Txt x={642} y={418} rotate size={12}>{AVG_WORD}</Txt>
      <Txt x={656} y={427} rotate size={12}>{VCO2}</Txt>
      <Txt x={235} y={562} rotate size={12}>{AVG_WORD}</Txt>
      <Txt x={249} y={565} rotate size={12}>{VO2}</Txt>
      <Txt x={642} y={563} rotate size={12}>{AVG_WORD}</Txt>
      <Txt x={655} y={563} rotate size={12}>Heat (kcal/h)</Txt>
      <Txt x={235} y={710} rotate size={12}>{AVG_WORD}</Txt>
      <Txt x={249} y={715} rotate size={12}>XTOT (counts)</Txt>
      <Txt x={642} y={710} rotate size={12}>{AVG_WORD}</Txt>
      <Txt x={655} y={715} rotate size={12}>ZTOT (counts)</Txt>
    </div>
  );
}
